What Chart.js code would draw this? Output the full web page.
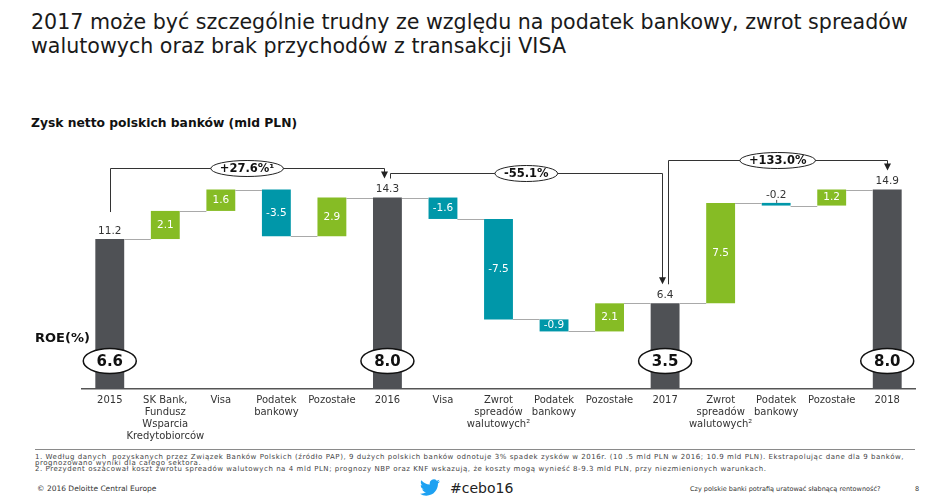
<!DOCTYPE html>
<html><head><meta charset="utf-8">
<script src="https://cdn.jsdelivr.net/npm/chart.js@4.4.1/dist/chart.umd.min.js"></script>
<style>
html,body{margin:0;padding:0;background:#fff;}
body{width:945px;height:498px;position:relative;overflow:hidden;font-family:"DejaVu Sans",Verdana,sans-serif;color:#1a1a1a;}
#title{position:absolute;left:31px;top:11px;font-size:20.6px;line-height:23.5px;width:910px;white-space:nowrap;}
#subtitle{position:absolute;left:31px;top:115px;font-size:12.3px;line-height:16px;font-weight:bold;color:#111;}
#roe{position:absolute;left:35px;top:330px;font-size:13px;line-height:16px;font-weight:bold;color:#111;}
#wrap{position:absolute;left:0;top:0;width:945px;height:449px;}
#sep{position:absolute;left:35px;top:449px;width:880px;height:0;border-top:1px solid #8a8a8a;}
#notes{position:absolute;left:35px;top:454px;font-size:7px;letter-spacing:0.55px;line-height:6px;color:#444;width:900px;white-space:nowrap;}
#copy{position:absolute;left:37px;top:485px;font-size:7.5px;line-height:8px;color:#333;}
#bird{position:absolute;left:420px;top:479px;width:20px;height:17px;}
#tag{position:absolute;left:450px;top:479px;font-size:14px;line-height:18px;color:#222;}
#rt{position:absolute;left:690px;top:485px;font-size:6.5px;line-height:8px;color:#333;}
#pg{position:absolute;left:915px;top:485px;font-size:6.5px;line-height:8px;color:#333;}
</style></head>
<body>
<div id="title">2017 może być szczególnie trudny ze względu na podatek bankowy, zwrot spreadów<br>walutowych oraz brak przychodów z transakcji VISA</div>
<div id="subtitle">Zysk netto polskich banków (mld PLN)</div>
<div id="wrap"><canvas id="c" width="945" height="449"></canvas></div>
<div id="roe">ROE(%)</div>
<div id="sep"></div>
<div id="notes">1. Według danych &nbsp;pozyskanych przez Związek Banków Polskich (źródło PAP), 9 dużych polskich banków odnotuje 3% spadek zysków w 2016r. (10 .5 mld PLN w 2016; 10.9 mld PLN). Ekstrapolując dane dla 9 banków,<br>prognozowano wyniki dla całego sektora.<br>2. Prezydent oszacował koszt zwrotu spreadów walutowych na 4 mld PLN; prognozy NBP oraz KNF wskazują, że koszty mogą wynieść 8-9.3 mld PLN, przy niezmienionych warunkach.</div>
<div id="copy">© 2016 Deloitte Central Europe</div>
<svg id="bird" viewBox="0 0 24 20"><path fill="#1da1f2" d="M23.953 2.57a10 10 0 01-2.825.775 4.958 4.958 0 002.163-2.723c-.951.555-2.005.959-3.127 1.184a4.92 4.92 0 00-8.384 4.482C7.69 6.095 4.067 4.13 1.64 1.162a4.822 4.822 0 00-.666 2.475c0 1.710.87 3.213 2.188 4.096a4.904 4.904 0 01-2.228-.616v.06a4.923 4.923 0 003.946 4.827 4.996 4.996 0 01-2.212.085 4.936 4.936 0 004.604 3.417 9.867 9.867 0 01-6.102 2.105c-.39 0-.779-.023-1.17-.067a13.995 13.995 0 007.557 2.209c9.053 0 13.998-7.496 13.998-13.985 0-.21 0-.42-.015-.63A9.935 9.935 0 0024 2.590z"/></svg>
<div id="tag">#cebo16</div>
<div id="rt">Czy polskie banki potrafią uratować słabnącą rentowność?</div>
<div id="pg">8</div>
<script>
// ---- data ----
const categories = [
  '2015', ['SK Bank,','Fundusz','Wsparcia','Kredytobiorców'], 'Visa', ['Podatek','bankowy'], 'Pozostałe',
  '2016', 'Visa', ['Zwrot','spreadów','walutowych²'], ['Podatek','bankowy'], 'Pozostałe',
  '2017', ['Zwrot','spreadów','walutowych²'], ['Podatek','bankowy'], 'Pozostałe', '2018'
];
const values = [11.2, 2.1, 1.6, -3.5, 2.9, 14.3, -1.6, -7.5, -0.9, 2.1, 6.4, 7.5, -0.2, 1.2, 14.9];
const isTotal = [true,false,false,false,false,true,false,false,false,false,true,false,false,false,true];
const roeLabels = ['6.6', '8.0', '3.5', '8.0'];
const growthLabels = ['+27.6%¹', '-55.1%', '+133.0%'];

// ---- build floating ranges ----
const ranges = [];
let run = 0;
values.forEach((v, i) => {
  if (isTotal[i]) { ranges.push([0, v]); run = v; }
  else { ranges.push([run, run + v]); run = run + v; }
});
const COL_TOTAL = '#4f5155', COL_POS = '#86bc25', COL_NEG = '#0097a9';
const colors = values.map((v, i) => isTotal[i] ? COL_TOTAL : (v >= 0 ? COL_POS : COL_NEG));
const totalIdx = isTotal.map((t, i) => t ? i : -1).filter(i => i >= 0);

const FONT = '"DejaVu Sans", Verdana, sans-serif';

const waterfallPlugin = {
  id: 'waterfall',
  afterDatasetsDraw(chart, args, opts) {
    const ctx = chart.ctx;
    const meta = chart.getDatasetMeta(0);
    const ys = chart.scales.y;
    const area = chart.chartArea;
    ctx.save();
    // connectors
    ctx.strokeStyle = '#a9a9a9';
    ctx.lineWidth = 1;
    for (let i = 0; i < ranges.length - 1; i++) {
      const a = meta.data[i], b = meta.data[i + 1];
      const y = Math.round(ys.getPixelForValue(ranges[i][1])) + 0.5;
      ctx.beginPath();
      ctx.moveTo(a.x + a.width / 2, y);
      ctx.lineTo(b.x - b.width / 2, y);
      ctx.stroke();
    }
    // value labels
    ctx.textAlign = 'center';
    ctx.textBaseline = 'middle';
    values.forEach((v, i) => {
      const el = meta.data[i];
      const top = ys.getPixelForValue(Math.max(ranges[i][0], ranges[i][1]));
      const bot = ys.getPixelForValue(Math.min(ranges[i][0], ranges[i][1]));
      ctx.font = '10.5px ' + FONT;
      if (isTotal[i]) {
        ctx.fillStyle = '#333';
        ctx.fillText(v.toFixed(1), el.x, top - 8);
      } else if (Math.abs(v) < 0.5) {
        ctx.fillStyle = '#333';
        ctx.fillText(v.toFixed(1), el.x, top - 8);
        ctx.strokeStyle = '#555';
        ctx.beginPath(); ctx.moveTo(el.x + 0.5, top - 3); ctx.lineTo(el.x + 0.5, top); ctx.stroke();
      } else {
        ctx.fillStyle = '#fff';
        ctx.fillText(v.toFixed(1), el.x, (top + bot) / 2);
      }
    });
    // ROE ellipses
    totalIdx.forEach((ti, k) => {
      const el = meta.data[ti];
      const cy = area.bottom - 28;
      ctx.beginPath();
      ctx.ellipse(el.x, cy, 26.5, 12.5, 0, 0, Math.PI * 2);
      ctx.fillStyle = '#fff'; ctx.fill();
      ctx.lineWidth = 1.5; ctx.strokeStyle = '#111'; ctx.stroke();
      ctx.fillStyle = '#111';
      ctx.font = 'bold 15px ' + FONT;
      ctx.fillText(roeLabels[k], el.x, cy + 1);
    });
    // growth arrows
    const levels = opts.levels;
    for (let k = 0; k < totalIdx.length - 1; k++) {
      const from = meta.data[totalIdx[k]], to = meta.data[totalIdx[k + 1]];
      const sx = from.x + (k > 0 ? 3 : 0);
      const tx = to.x - (k < totalIdx.length - 2 ? 3 : 0);
      const sy = ys.getPixelForValue(values[totalIdx[k]]) - (k === 0 ? 27 : 19);
      const tyTop = ys.getPixelForValue(values[totalIdx[k + 1]]) - 19;
      const hy = area.top + levels[k] + 0.5;
      ctx.strokeStyle = '#333'; ctx.lineWidth = 1;
      ctx.beginPath();
      ctx.moveTo(Math.round(sx) + 0.5, sy);
      ctx.lineTo(Math.round(sx) + 0.5, hy);
      ctx.lineTo(Math.round(tx) + 0.5, hy);
      ctx.lineTo(Math.round(tx) + 0.5, tyTop - 6);
      ctx.stroke();
      ctx.fillStyle = '#222';
      ctx.beginPath();
      ctx.moveTo(Math.round(tx) + 0.5 - 3.5, tyTop - 7);
      ctx.lineTo(Math.round(tx) + 0.5 + 3.5, tyTop - 7);
      ctx.lineTo(Math.round(tx) + 0.5, tyTop);
      ctx.closePath(); ctx.fill();
      // label ellipse
      const cx = (sx + tx) / 2;
      ctx.font = 'bold 11.5px ' + FONT;
      const w = ctx.measureText(growthLabels[k]).width;
      ctx.beginPath();
      ctx.ellipse(cx, hy, w / 2 + 9, 8, 0, 0, Math.PI * 2);
      ctx.fillStyle = '#fff'; ctx.fill();
      ctx.lineWidth = 1; ctx.strokeStyle = '#222'; ctx.stroke();
      ctx.fillStyle = '#111';
      ctx.fillText(growthLabels[k], cx, hy + 0.5);
    }
    ctx.restore();
  }
};

new Chart(document.getElementById('c'), {
  type: 'bar',
  data: {
    labels: categories,
    datasets: [{
      data: ranges,
      backgroundColor: colors,
      barPercentage: 0.52,
      categoryPercentage: 1,
      borderWidth: 0,
      borderSkipped: false
    }]
  },
  options: {
    responsive: false,
    animation: false,
    layout: { padding: { left: 82, right: 30, top: 148, bottom: 0 } },
    scales: {
      x: {
        grid: { display: false, drawTicks: false },
        border: { display: true, color: '#555', width: 1.5 },
        ticks: { color: '#333', font: { family: FONT, size: 10, lineHeight: 1.17 }, padding: 6, maxRotation: 0, minRotation: 0, autoSkip: false },
        afterFit(s) { s.height = 60; }
      },
      y: { display: false, min: 0, max: 18 }
    },
    plugins: {
      legend: { display: false },
      tooltip: { enabled: false },
      waterfall: { levels: [20, 25, 12] }
    }
  },
  plugins: [waterfallPlugin]
});
</script>
</body></html>
